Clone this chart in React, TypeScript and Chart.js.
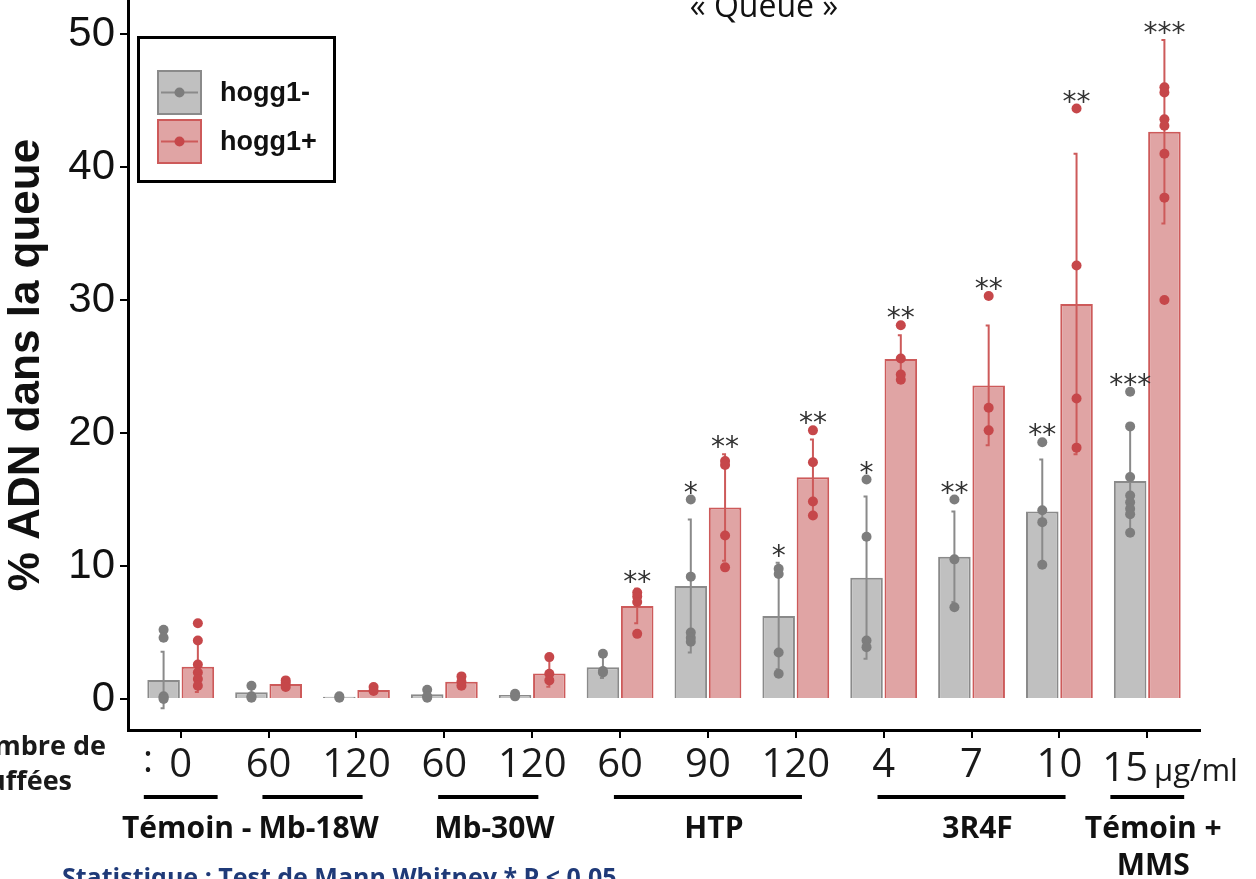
import React, { useEffect, useRef } from "react";
import { Chart, registerables } from "chart.js";

Chart.register(...registerables);

// ---- data ----
const xLabels = ["0", "60", "120", "60", "120", "60", "90", "120", "4", "7", "10", "15"];
const yTicks = [0, 10, 20, 30, 40, 50];
const seriesNames = ["hogg1-", "hogg1+"];

const grayMeans = [1.43, 0.5, 0.17, 0.35, 0.3, 2.38, 8.5, 6.24, 9.12, 10.7, 14.1, 16.4];
const graySd = [2.13, 0.45, 0.1, 0.3, 0.15, 0.8, 5.0, 4.0, 6.1, 3.4, 3.9, 4.0];
const redMeans = [2.43, 1.13, 0.68, 1.3, 1.92, 7.0, 14.4, 16.67, 25.56, 23.58, 29.7, 42.65];
const redSd = [1.9, 0.3, 0.15, 0.35, 1.0, 1.3, 4.0, 2.85, 1.8, 4.5, 11.3, 6.9];

const grayPoints = [
  [5.2, 4.6, 0.2, 0.1, 0.0],
  [1.0, 0.2, 0.1],
  [0.2, 0.1],
  [0.7, 0.2, 0.1],
  [0.4, 0.2],
  [3.4, 2.1, 2.0],
  [15.0, 9.2, 5.0, 4.6, 4.3],
  [9.8, 9.4, 3.5, 1.9],
  [16.5, 12.2, 4.4, 3.9],
  [15.0, 10.5, 6.9],
  [19.3, 14.2, 13.3, 10.1],
  [23.1, 20.5, 16.7, 15.3, 14.8, 14.3, 13.9, 12.5],
];
const redPoints = [
  [5.7, 4.4, 2.6, 2.0, 1.5, 1.0],
  [1.4, 1.2, 0.9],
  [0.9, 0.6],
  [1.7, 1.3, 1.0],
  [3.15, 1.9, 1.4],
  [8.0, 7.7, 7.3, 4.9],
  [17.9, 17.6, 12.3, 9.9],
  [20.2, 17.8, 14.85, 13.8],
  [28.1, 25.6, 24.4, 24.0],
  [30.3, 21.9, 20.2],
  [44.4, 32.6, 22.6, 18.9],
  [46.0, 45.6, 43.6, 43.1, 41.0, 37.7, 30.0],
];
const grayStars = ["", "", "", "", "", "", "*", "*", "*", "**", "**", "***"];
const redStars = ["", "", "", "", "", "**", "**", "**", "**", "**", "**", "***"];

const groupNames = ["Témoin -", "Mb-18W", "Mb-30W", "HTP", "3R4F", "Témoin +\nMMS"];
const groupStart = [0, 1, 3, 5, 8, 11];
const groupEnd = [0, 2, 4, 7, 10, 11];

const titleText = "« Queue »";
const yTitle = "% ADN dans la queue";
const unitText = "µg/ml";
const puffLines = ["Nombre de", "bouffées"];
const statText = "Statistique : Test de Mann Whitney * P < 0.05";

// ---- style ----
const W = 1256;
const H = 879;
const GRAY_FILL = "#c0c0c0";
const GRAY_LINE = "#8a8a8a";
const GRAY_PT = "#7d7d7d";
const RED_FILL = "#e0a4a4";
const RED_LINE = "#cd5a5a";
const RED_PT = "#c6474a";
const LAST = xLabels.length - 1;

export default function App() {
  const ref = useRef<HTMLCanvasElement>(null);

  useEffect(() => {
    const canvas = ref.current!;
    const overlay = {
      id: "overlay",
      afterDatasetsDraw(chart: any) {
        const c = chart.ctx;
        const ys = chart.scales.y;
        const drawSeries = (
          di: number,
          means: number[],
          sds: number[],
          pts: number[][],
          stars: string[],
          lineColor: string,
          ptColor: string
        ) => {
          const meta = chart.getDatasetMeta(di);
          meta.data.forEach((bar: any, i: number) => {
            const x = bar.x;
            const top = ys.getPixelForValue(means[i] + sds[i]);
            const bot = ys.getPixelForValue(means[i] - sds[i]);
            c.save();
            c.strokeStyle = lineColor;
            c.lineWidth = 2;
            c.beginPath();
            c.moveTo(x, top);
            c.lineTo(x, bot);
            c.moveTo(x - 3, top);
            c.lineTo(x + 1, top);
            c.moveTo(x - 3, bot);
            c.lineTo(x + 1, bot);
            c.stroke();
            c.fillStyle = ptColor;
            pts[i].forEach((v) => {
              c.beginPath();
              c.arc(x, ys.getPixelForValue(v), 5, 0, Math.PI * 2);
              c.fill();
            });
            if (stars[i]) {
              const hi = Math.max(means[i] + sds[i], ...pts[i]);
              c.fillStyle = "#333";
              c.font = "28px 'DejaVu Sans'";
              c.textAlign = "center";
              c.textBaseline = "alphabetic";
              c.fillText(stars[i], x, ys.getPixelForValue(hi) + 2);
            }
            c.restore();
          });
        };
        drawSeries(0, grayMeans, graySd, grayPoints, grayStars, GRAY_LINE, GRAY_PT);
        drawSeries(1, redMeans, redSd, redPoints, redStars, RED_LINE, RED_PT);
      },
      afterDraw(chart: any) {
        const c = chart.ctx;
        const xs = chart.scales.x;
        const step = xs.getPixelForValue(1) - xs.getPixelForValue(0);
        c.save();
        // title (cropped at top)
        c.fillStyle = "#111";
        c.font = "32px 'Open Sans'";
        c.textAlign = "center";
        c.textBaseline = "alphabetic";
        c.fillText(titleText, 764, 17);

        // legend
        c.lineWidth = 3;
        c.strokeStyle = "#000";
        c.strokeRect(138.5, 37.5, 196, 144);
        const sw = [
          { y: 70, fill: GRAY_FILL, line: GRAY_LINE, pt: GRAY_PT },
          { y: 119, fill: RED_FILL, line: RED_LINE, pt: RED_PT },
        ];
        sw.forEach((s, k) => {
          c.fillStyle = s.fill;
          c.fillRect(157, s.y, 45, 45);
          c.strokeStyle = s.line;
          c.lineWidth = 2;
          c.strokeRect(158, s.y + 1, 43, 43);
          c.beginPath();
          c.moveTo(161, s.y + 22.5);
          c.lineTo(198, s.y + 22.5);
          c.stroke();
          c.fillStyle = s.pt;
          c.beginPath();
          c.arc(179.5, s.y + 22.5, 5, 0, Math.PI * 2);
          c.fill();
          c.fillStyle = "#111";
          c.font = "bold 27px 'Liberation Sans'";
          c.textAlign = "left";
          c.textBaseline = "middle";
          c.fillText(seriesNames[k], 220, s.y + 24);
        });

        // last tick label with its unit (drawn shifted left, like the reference)
        const lx = xs.getPixelForValue(LAST) - 45;
        c.fillStyle = "#1a1a1a";
        c.font = "40px 'Open Sans'";
        c.textAlign = "left";
        c.textBaseline = "alphabetic";
        c.fillText(xLabels[LAST], lx, 781);
        const lw = c.measureText(xLabels[LAST]).width;
        c.font = "31px 'Open Sans'";
        c.fillText(unitText, lx + lw + 6, 781);

        // colon and puff label (cropped at left)
        c.font = "38px 'Open Sans'";
        c.fillText(":", 143, 772);
        c.font = "bold 27px 'Open Sans'";
        c.textAlign = "right";
        c.textBaseline = "middle";
        c.fillText(puffLines[0], 106, 747);
        c.fillText(puffLines[1], 72, 782);

        // group underlines and names
        groupNames.forEach((name, g) => {
          const a = xs.getPixelForValue(groupStart[g]);
          const b = xs.getPixelForValue(groupEnd[g]);
          const pad = groupStart[g] === groupEnd[g] ? step * 0.42 : step * 0.07;
          const l = a - pad;
          const r = b + pad;
          c.strokeStyle = "#000";
          c.lineWidth = 4;
          c.beginPath();
          c.moveTo(l, 797);
          c.lineTo(r, 797);
          c.stroke();
          c.fillStyle = "#111";
          c.font = "bold 30px 'Open Sans'";
          c.textAlign = "center";
          c.textBaseline = "middle";
          name.split("\n").forEach((ln, k) => {
            c.fillText(ln, (l + r) / 2 + 6, 829 + k * 37);
          });
        });

        // statistics note (cropped at bottom)
        c.fillStyle = "#1f3a78";
        c.font = "bold 25px 'Open Sans'";
        c.textAlign = "left";
        c.textBaseline = "alphabetic";
        c.fillText(statText, 62, 886);
        c.restore();
      },
    };

    const chart = new Chart(canvas, {
      type: "bar",
      data: {
        datasets: [
          {
            label: seriesNames[0],
            data: grayMeans.map((v, i) => ({ x: i, y: v })),
            backgroundColor: GRAY_FILL,
            borderColor: GRAY_LINE,
            borderWidth: 2,
            categoryPercentage: 0.78,
            barPercentage: 0.95,
          },
          {
            label: seriesNames[1],
            data: redMeans.map((v, i) => ({ x: i, y: v })),
            backgroundColor: RED_FILL,
            borderColor: RED_LINE,
            borderWidth: 2,
            categoryPercentage: 0.78,
            barPercentage: 0.95,
          },
        ] as any,
      },
      options: {
        responsive: false,
        animation: false,
        layout: { padding: { left: 0, top: 0, right: 56, bottom: 0 } },
        plugins: { legend: { display: false }, tooltip: { enabled: false } },
        scales: {
          x: {
            type: "linear",
            min: -0.6,
            max: 11.6,
            offset: false,
            afterBuildTicks: (s: any) => {
              s.ticks = xLabels.map((_, i) => ({ value: i }));
            },
            afterFit: (s: any) => {
              s.height = H - 730;
              s.paddingLeft = 0;
              s.paddingRight = 0;
            },
            ticks: {
              autoSkip: false,
              maxRotation: 0,
              padding: 4,
              color: "#1a1a1a",
              font: { family: "'Open Sans'", size: 40 },
              callback: (v: any) => (v === LAST ? "" : xLabels[v] ?? ""),
            },
            grid: {
              display: true,
              offset: false,
              drawOnChartArea: false,
              drawTicks: true,
              tickLength: 8,
              color: "#000",
              lineWidth: 2,
            },
            border: { display: true, color: "#000", width: 3 },
          },
          y: {
            min: -2.33,
            max: 52.56,
            afterBuildTicks: (s: any) => {
              s.ticks = yTicks.map((v) => ({ value: v }));
            },
            afterFit: (s: any) => {
              s.width = 128;
              s.paddingTop = 0;
              s.paddingBottom = 0;
            },
            ticks: {
              padding: 5,
              color: "#111",
              font: { family: "'Liberation Sans'", size: 42 },
            },
            grid: {
              display: true,
              drawOnChartArea: false,
              drawTicks: true,
              tickLength: 8,
              color: "#000",
              lineWidth: 2,
            },
            border: { display: true, color: "#000", width: 3 },
            title: {
              display: true,
              text: yTitle,
              color: "#111",
              font: { family: "'Liberation Sans'", size: 44, weight: "bold", lineHeight: 1.2 },
              padding: { top: 0, bottom: 0 },
            },
          },
        },
      } as any,
      plugins: [overlay],
    });
    return () => chart.destroy();
  }, []);

  return (
    <div style={{ position: "fixed", left: 0, top: 0, width: W, height: H, background: "#fff" }}>
      <canvas ref={ref} width={W} height={H} style={{ display: "block", width: W, height: H }} />
    </div>
  );
}
